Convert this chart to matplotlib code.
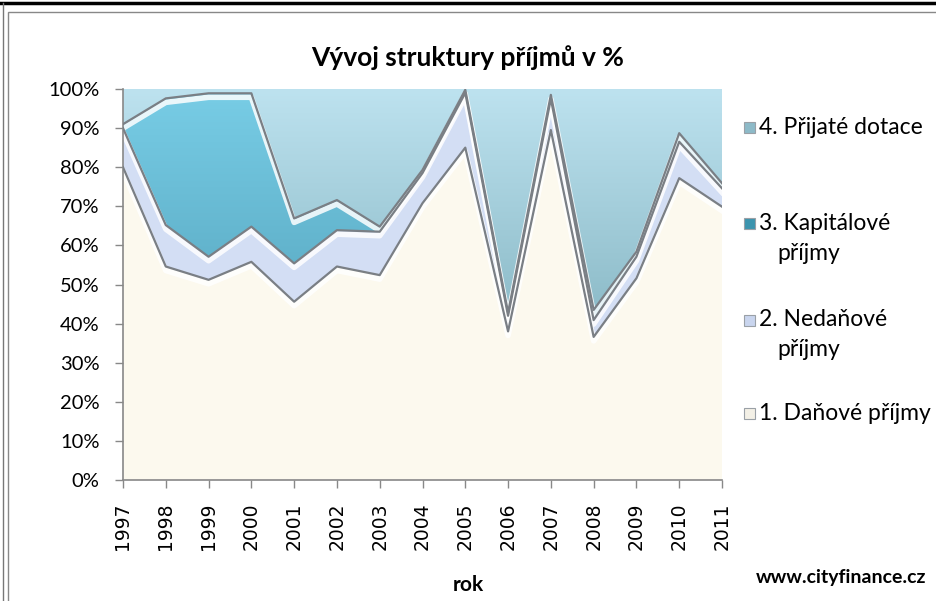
import numpy as np
import matplotlib
matplotlib.use("Agg")
import matplotlib.pyplot as plt
import matplotlib.transforms as mtransforms
from matplotlib.colors import LinearSegmentedColormap
from matplotlib.patches import Rectangle

years = list(range(1997, 2012))
danove = [80.0, 54.6, 51.2, 55.8, 45.6, 54.6, 52.4, 70.8, 85.0, 38.0, 89.5, 36.6, 51.6, 77.2, 69.9]
nedanove = [10.0, 10.6, 5.9, 9.0, 9.8, 9.3, 11.1, 7.7, 14.0, 4.0, 8.0, 4.3, 5.5, 9.3, 4.7]
kapitalove = [1.0, 32.4, 41.8, 34.1, 11.5, 7.7, 1.3, 0.8, 0.8, 0.8, 1.0, 2.6, 1.3, 2.2, 1.3]
dotace = [9.0, 2.4, 1.1, 1.1, 33.1, 28.4, 35.2, 20.7, 0.2, 57.2, 1.5, 56.5, 41.6, 11.3, 24.1]

labels = [["1. Daňové příjmy"], ["2. Nedaňové", "příjmy"], ["3. Kapitálové", "příjmy"], ["4. Přijaté dotace"]]
yticks = [0, 10, 20, 30, 40, 50, 60, 70, 80, 90, 100]

plt.rcParams['font.family'] = ['Lato', 'DejaVu Sans']

fig = plt.figure(figsize=(9.36, 6.01), dpi=100)
ax = fig.add_axes([123 / 936, 1 - 480 / 601, 599 / 936, 391 / 601])

x = np.array(years)
series = [danove, nedanove, kapitalove, dotace]
flat = ['#FCF9EE', '#D3DEF4', '#64B9D3', '#A6D2E0']
polys = ax.stackplot(x, *series, colors=flat, edgecolor='none', zorder=1)

# vertical gradients for the blue layers
grads = {
    2: LinearSegmentedColormap.from_list('cap', [(0, '#4E9FB8'), (0.5, '#5EAFC8'), (1, '#78CDE6')]),
    3: LinearSegmentedColormap.from_list('dot', [(0, '#7FAEBB'), (0.4, '#8BBAC7'), (1, '#BDE2EF')]),
}
grad = np.linspace(0, 1, 256).reshape(-1, 1)
for i, cmap in grads.items():
    im = ax.imshow(grad, extent=[1997, 2011, 0, 100], origin='lower', cmap=cmap,
                   aspect='auto', zorder=1.5, interpolation='bicubic')
    im.set_clip_path(polys[i].get_paths()[0], transform=ax.transData)

# boundaries with bevel look
cum = np.cumsum(np.array(series), axis=0)
shift_dn = mtransforms.offset_copy(ax.transData, fig=fig, x=0, y=-4, units='dots')
for k in range(3):
    ax.plot(x, cum[k], color='white', lw=4, alpha=0.85, transform=shift_dn, zorder=2,
            solid_joinstyle='round')
    ax.plot(x, cum[k], color='#7A7F85', lw=1.6, zorder=3, solid_joinstyle='round')

ax.set_xlim(1997, 2011)
ax.set_ylim(0, 100)
ax.set_yticks(yticks)
ax.set_yticklabels([f"{t}%" for t in yticks], fontsize=14.5)
ax.set_xticks(years)
ax.set_xticklabels([str(y) for y in years], rotation=90, fontsize=13.5,
                   family=['DejaVu Sans'])
ax.tick_params(axis='both', direction='out', length=6, color='#888888', width=1)
ax.tick_params(axis='y', pad=11)
ax.tick_params(axis='x', pad=10)
for s in ['top', 'right']:
    ax.spines[s].set_visible(False)
for s in ['left', 'bottom']:
    ax.spines[s].set_color('#888888')
    ax.spines[s].set_linewidth(1.2)

fig.text(468 / 936, 1 - 58 / 601, "Vývoj struktury příjmů v %", ha='center', va='center',
         fontsize=19, fontweight='bold')
fig.text(468 / 936, 1 - 585 / 601, "rok", ha='center', va='center',
         fontsize=15, fontweight='bold')
fig.text(841 / 936, 1 - 578 / 601, "www.cityfinance.cz", ha='center', va='center',
         fontsize=14, fontweight='bold')

# legend drawn by hand
leg_y = [413, 320, 223, 127]
leg_face = ['#F3F0E6', '#C9D5EE', '#3C94AE', '#8DBAC8']
for lines, yy, fc in zip(labels, leg_y, leg_face):
    fig.patches.append(Rectangle((744 / 936, 1 - (yy + 6) / 601), 11 / 936, 11 / 601,
                                 transform=fig.transFigure, facecolor=fc,
                                 edgecolor='#9AA0A6', lw=0.8))
    fig.text(759 / 936, 1 - yy / 601, lines[0], ha='left', va='center', fontsize=16.5)
    if len(lines) > 1:
        fig.text(777 / 936, 1 - (yy + 30) / 601, lines[1], ha='left', va='center', fontsize=16.5)

# outer frames
fig.add_artist(plt.Line2D([0, 1], [1 - 3 / 601, 1 - 3 / 601], color='black', lw=2.5,
                          transform=fig.transFigure))
fig.add_artist(plt.Line2D([3 / 936, 3 / 936], [0, 1 - 3 / 601], color='#777777', lw=1,
                          transform=fig.transFigure))
fig.add_artist(Rectangle((8 / 936, -0.01), 1.0, 1 - 12 / 601 + 0.01, transform=fig.transFigure,
                         fill=False, edgecolor='#888888', lw=1))

fig.savefig("out.png", dpi=100)
